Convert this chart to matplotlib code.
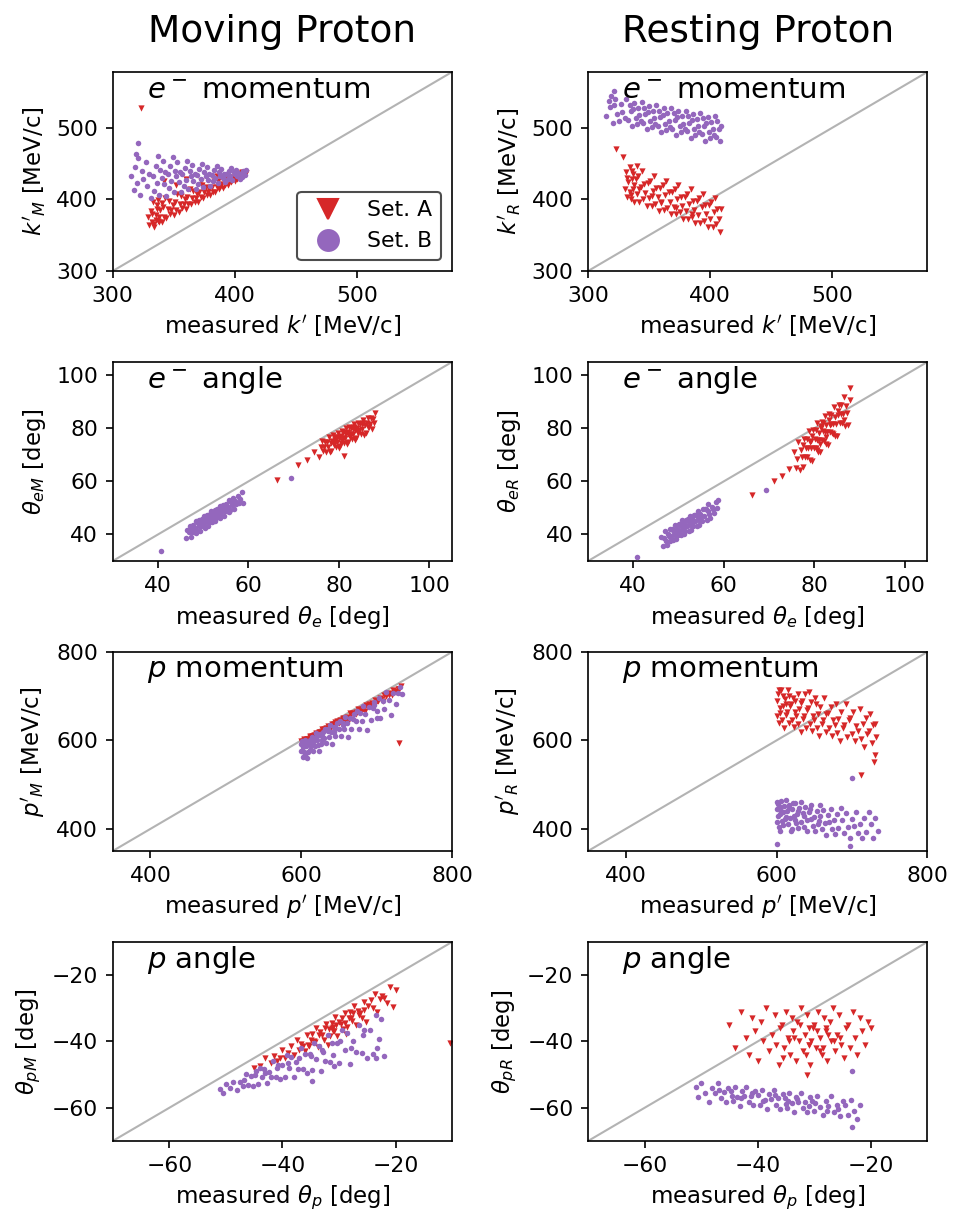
import numpy as np
import matplotlib
matplotlib.use("Agg")
import matplotlib.pyplot as plt
from matplotlib.lines import Line2D

nan = np.nan

# ---- electron momentum k' [MeV/c]: measured, moving-proton and resting-proton reconstruction
kA_meas = [330, 331, 332, 333, 334, 335, 336, 337, 338, 339, 340, 341, 342, 343, 344, 345, 346, 347, 348, 349,
           350, 351, 352, 353, 354, 355, 356, 357, 358, 359, 360, 361, 362, 363, 364, 365, 366, 367, 368, 369,
           370, 371, 372, 373, 374, 375, 376, 377, 378, 379, 380, 381, 382, 383, 384, 385, 386, 387, 388, 389,
           390, 391, 392, 393, 394, 395, 396, 397, 398, 399, 400, 401, 402, 403, 404, 405, 406, 407, 408, 409,
           332, 334, 336, 338, 340, 335, 337, 323, 329, 342, 352, 360, 372, 385]
kA_mov = [364, 384, 369, 396, 365, 378, 392, 370, 376, 385, 369, 390, 376, 402, 374, 386, 398, 379, 385, 392,
          378, 397, 385, 408, 383, 394, 405, 388, 393, 400, 387, 404, 394, 414, 393, 402, 412, 397, 402, 407,
          397, 411, 403, 420, 402, 410, 418, 406, 410, 415, 406, 418, 411, 426, 411, 418, 425, 415, 418, 422,
          416, 426, 420, 432, 420, 426, 431, 424, 427, 430, 426, 433, 429, 437, 430, 434, 438, 433, 435, 437,
          380, 362, 386, 368, 395, 371, 399, 527, 375, 425, 420, 428, 425, 433]
kA_rest = [414, 438, 403, 424, 445, 406, 428, 415, 397, 429, 408, 433, 397, 418, 439, 400, 422, 409, 391, 423,
           402, 426, 391, 412, 432, 394, 416, 403, 384, 416, 396, 420, 385, 406, 426, 388, 410, 397, 379, 410,
           390, 414, 379, 400, 420, 382, 404, 391, 373, 404, 384, 408, 373, 394, 414, 376, 398, 385, 367, 398,
           378, 402, 367, 389, 408, 370, 392, 379, 361, 392, 372, 396, 361, 383, 402, 365, 386, 373, 355, 387,
           430, 410, 440, 420, 446, 400, 435, 470, 459, 415, 405, 395, 388, 380]

kB_meas = [315, 317, 318, 320, 321, 322, 324, 325, 327, 328, 330, 331, 333, 334, 335, 336, 337, 338, 339, 340,
           341, 342, 343, 344, 345, 346, 347, 348, 349, 350, 351, 352, 353, 354, 355, 356, 357, 358, 359, 360,
           361, 362, 363, 364, 365, 366, 367, 368, 369, 370, 371, 372, 373, 374, 375, 376, 377, 378, 379, 380,
           381, 382, 383, 384, 385, 386, 387, 388, 389, 390, 391, 392, 393, 394, 395, 396, 397, 398, 399, 400,
           401, 402, 403, 404, 405, 406, 407, 408, 409, 321, 319]
kB_mov = [432, 413, 445, 423, 458, 406, 439, 429, 452, 419, 436, 402, 433, 412, 446, 423, 460, 406, 441, 430,
          454, 421, 438, 405, 435, 416, 447, 425, 459, 411, 440, 432, 452, 424, 438, 410, 435, 419, 444, 427,
          454, 415, 439, 432, 448, 425, 436, 414, 434, 421, 443, 428, 450, 418, 438, 432, 445, 427, 436, 419,
          434, 425, 441, 430, 447, 423, 438, 433, 443, 430, 436, 424, 435, 428, 440, 432, 444, 427, 438, 435,
          441, 432, 437, 428, 436, 431, 439, 434, 441, 479, 463]
kB_rest = [517, 538, 529, 507, 532, 540, 519, 510, 533, 522, 514, 540, 511, 532, 523, 502, 526, 535, 514, 505,
           528, 518, 509, 536, 507, 528, 519, 498, 522, 531, 510, 501, 524, 514, 505, 532, 503, 524, 515, 494,
           518, 527, 506, 497, 520, 510, 501, 528, 499, 520, 511, 490, 515, 523, 502, 494, 516, 506, 498, 524,
           495, 517, 507, 486, 511, 519, 498, 490, 512, 502, 494, 520, 491, 513, 503, 482, 507, 515, 494, 486,
           508, 498, 490, 516, 487, 509, 499, 481, 503, 552, 545]

# ---- electron angle theta_e [deg]
thA_meas = [75.5, 76, 76.2, 76.5, 76.8, 77, 77.2, 77.4, 77.6, 77.8, 78, 78.2, 78.3, 78.5, 78.7, 78.9, 79, 79.2,
            79.3, 79.5, 79.6, 79.8, 80, 80.1, 80.3, 80.4, 80.6, 80.7, 80.9, 81, 81.1, 81.3, 81.4, 81.6, 81.7,
            81.9, 82, 82.1, 82.3, 82.4, 82.6, 82.7, 82.9, 83, 83.2, 83.3, 83.5, 83.6, 83.8, 84, 84.1, 84.3, 84.5,
            84.6, 84.8, 85, 85.2, 85.4, 85.6, 85.8, 86, 86.2, 86.4, 86.6, 86.8, 87, 87.2, 87.5, 87.8, 88,
            79.1, 80.5, 81.5, 82.5, 83.4, 84.2, 85.3, 86.5, 66.2, 71.0, 72.9, 74.5, 81.2]
thA_mov = [69.2, 73.1, 75.1, 71.6, 72.8, 75, 71.2, 74.8, 73, 76.7, 70.9, 74.5, 71.6, 75.3, 77.3, 73.7, 74.7, 76.9,
           73, 76.7, 74.8, 78.4, 72.6, 76.2, 73.4, 77, 78.9, 75.2, 76.4, 78.5, 74.6, 78.2, 76.3, 80, 74.1,
           77.8, 74.9, 78.5, 80.4, 76.7, 77.9, 80, 76.1, 79.7, 77.9, 81.5, 75.7, 79.2, 76.4, 80.1, 82, 78.4, 79.5,
           81.6, 77.8, 81.5, 79.6, 83.3, 77.5, 81.2, 78.3, 82, 84, 80.4, 81.5, 83.7, 79.9, 83.6, 81.9, 85.6,
           75.6, 74.5, 78.1, 77.1, 80.6, 78.1, 82, 80.5, 60.4, 66.3, 68.2, 71, 69.6]
thA_rest = [71.2, 65, 68.3, 74.8, 64.3, 71.7, 69, 65.5, 73.7, 76, 69.3, 72.7, 75.8, 69.2, 72.5, 78.8, 68, 75.3,
            72.5, 67.8, 77, 79.3, 72.7, 75.9, 79.2, 72.4, 75.7, 81.9, 71.2, 78.4, 75.5, 70.9, 80, 82.4, 75.5,
            78.9, 82, 75.2, 78.5, 84.7, 74, 81.2, 78.5, 73.7, 83, 85.2, 78.5, 81.7, 85, 78.4, 81.5, 87.9, 77.2,
            84.4, 81.7, 77, 86.4, 88.7, 82, 85.4, 88.7, 82, 85.4, 91.7, 81, 88.4, 85.7, 81.2, 90.7, 95,
            74.7, 72, 80.7, 76.9, 81.4, 77.7, 85, 83, 54.9, 60.1, 61.9, 64.8, 74]

thB_meas = [46.2, 46.5, 46.8, 47, 47.2, 47.4, 47.6, 47.8, 48, 48.2, 48.3, 48.5, 48.7, 48.8, 49, 49.1, 49.3, 49.4,
            49.6, 49.7, 49.9, 50, 50.1, 50.3, 50.4, 50.5, 50.7, 50.8, 51, 51.1, 51.2, 51.4, 51.5, 51.7, 51.8,
            52, 52.1, 52.2, 52.4, 52.5, 52.7, 52.8, 53, 53.1, 53.3, 53.4, 53.6, 53.7, 53.9, 54, 54.2, 54.3, 54.5,
            54.6, 54.8, 55, 55.2, 55.4, 55.6, 55.8, 56, 56.2, 56.4, 56.6, 56.8, 57, 57.3, 57.6, 57.9, 58.2, 58.5,
            58.8, 40.7, 69.3]
thB_mov = [38.6, 41.7, 40.8, 43.2, 38.9, 42, 40.9, 43.7, 40.9, 42.6, 44.9, 40.6, 41.4, 44.2, 43.2, 45.5, 41.2, 44.2,
           43, 45.7, 43, 44.6, 46.9, 42.6, 43.2, 46, 45, 47.3, 43.1, 46.1, 44.8, 47.6, 44.7, 46.4, 48.7,
           44.5, 45.1, 47.9, 46.9, 49.2, 44.9, 47.9, 46.7, 49.4, 46.7, 48.3, 50.7, 46.3, 47, 49.8, 48.8, 51.2, 46.9,
           49.9, 48.7, 51.5, 48.7, 50.5, 52.9, 48.6, 49.3, 52.2, 51.2, 53.7, 49.4, 52.5, 51.4, 54.4, 51.7, 53.5, 56,
           51.9, 33.6, 61.4]
thB_rest = [39.2, 35.5, 38.8, 41.3, 37.7, 36.1, 40.1, 39.3, 37.7, 41.9, 39.4, 42.1, 41.8, 37.9, 41.1, 43.5, 39.9, 38.2,
            42.2, 41.3, 39.7, 43.8, 41.2, 43.9, 43.5, 39.6, 42.8, 45.3, 41.7, 40, 43.9, 43.1, 41.4, 45.6, 43,
            45.7, 45.3, 41.4, 44.6, 47, 43.4, 41.7, 45.7, 44.8, 43.3, 47.4, 44.9, 47.5, 47.2, 43.3, 46.5, 48.9, 45.3,
            43.6, 47.6, 46.8, 45.2, 49.4, 46.9, 49.7, 49.4, 45.6, 48.8, 51.3, 47.7, 46.1, 50.2, 49.5, 48, 52.3, 50,
            52.8, 31.4, 56.6]

# ---- proton momentum p' [MeV/c]
pA_meas = [600, 601, 602, 603, 604, 605, 606, 607, 609, 610, 611, 612, 614, 615, 616, 618, 619, 620, 622, 623,
           625, 626, 628, 629, 630, 632, 633, 635, 636, 638, 639, 641, 642, 644, 645, 647, 648, 650, 651, 653,
           655, 656, 658, 660, 661, 663, 665, 666, 668, 670, 672, 673, 675, 677, 679, 680, 682, 684, 686, 688,
           690, 692, 694, 696, 698, 700, 702, 704, 706, 708, 710, 712, 714, 716, 718, 720, 722, 724, 726, 728,
           730, 732, 603, 608, 613, 617, 624, 634, 643, 652, 730, 729, 712]
pA_mov = [598, 594, 598, 593, 603, 600, 598, 604, 602, 597, 610, 607, 611, 607, 611, 607, 617, 614, 613, 619,
          618, 612, 626, 623, 626, 623, 627, 623, 633, 631, 629, 636, 633, 629, 642, 640, 643, 640, 644, 640,
          651, 648, 647, 653, 651, 647, 661, 658, 662, 659, 664, 659, 670, 667, 666, 672, 671, 667, 681, 678,
          683, 680, 684, 680, 691, 689, 688, 695, 694, 690, 703, 701, 705, 702, 707, 703, 714, 712, 710, 717,
          716, 722, 600, 603, 606, 612, 616, 625, 637, 646, 594, 717, 705]
pA_rest = [690, 655, 704, 639, 673, 663, 713, 645, 678, 628, 694, 657, 664, 714, 639, 678, 682, 647, 696, 631,
           665, 655, 704, 636, 670, 619, 685, 648, 656, 705, 629, 669, 673, 637, 687, 621, 656, 645, 695, 627,
           660, 610, 675, 638, 646, 695, 619, 659, 663, 627, 676, 611, 645, 634, 683, 616, 649, 598, 664, 627,
           634, 683, 607, 647, 651, 615, 664, 598, 633, 622, 671, 603, 636, 586, 651, 614, 621, 660, 595, 634,
           638, 607, 715, 700, 683, 700, 688, 690, 710, 682, 566, 552, 522]

pB_meas = [600, 600, 601, 602, 603, 604, 605, 606, 607, 608, 609, 610, 611, 613, 614, 615, 617, 618, 620, 621,
           623, 624, 626, 627, 629, 630, 632, 633, 635, 637, 638, 640, 641, 643, 645, 646, 648, 650, 651, 653,
           655, 657, 658, 660, 662, 664, 666, 668, 670, 672, 674, 676, 678, 680, 682, 685, 687, 690, 692, 695,
           697, 700, 703, 705, 708, 710, 713, 716, 719, 722, 725, 728, 731, 734,
           602.5, 604.5, 606.5, 612, 616, 619, 622, 625, 628, 636, 644, 656, 700, 601, 697]
pB_mov = [591, 576, 594, 562, 589, 574, 601, 587, 560, 596, 574, 593, 602, 588, 607, 575, 603, 588, 616, 601,
          575, 612, 591, 610, 620, 605, 625, 593, 621, 607, 634, 620, 592, 631, 609, 629, 639, 625, 644, 611,
          640, 625, 654, 639, 608, 651, 626, 649, 660, 643, 667, 626, 661, 643, 678, 660, 624, 675, 645, 673,
          686, 666, 695, 650, 690, 670, 709, 692, 658, 708, 683, 708, 721, 706,
          585, 566, 596, 579, 597, 607, 590, 615, 600, 626, 618, 634, 650, 598, 680]
pB_rest = [445, 415, 460, 430, 404, 449, 434, 463, 418, 438, 408, 452, 422, 466, 441, 411, 455, 425, 400, 444,
           429, 459, 413, 433, 402, 447, 416, 461, 436, 405, 450, 419, 394, 438, 423, 453, 407, 427, 396, 441,
           410, 455, 429, 399, 443, 413, 387, 432, 416, 446, 400, 420, 389, 433, 403, 447, 421, 391, 435, 404,
           379, 423, 407, 437, 391, 410, 380, 424, 393, 437, 411, 380, 425, 394,
           456, 395, 441, 427, 448, 396, 458, 419, 440, 430, 445, 417, 516, 366, 362]

# ---- proton angle theta_p [deg]
tpA_meas = [-45, -44, -43, -42, -41.5, -41, -40.5, -40, -39.5, -39, -38.5, -38, -37.5, -37, -36.7, -36.3, -36,
            -35.7, -35.3, -35, -34.7, -34.3, -34, -33.7, -33.3, -33, -32.7, -32.3, -32, -31.7, -31.3, -31, -30.7,
            -30.3, -30, -29.7, -29.3, -29, -28.7, -28.3, -28, -27.7, -27.3, -27, -26.7, -26.3, -26, -25.6, -25.2,
            -24.8, -24.4, -24, -23.6, -23.2, -22.8, -22.4, -22, -21.5, -21, -20.5, -20,
            -33.5, -32.5, -31.5, -30.5, -29.5, -28.5, -27.5, -26.5, -31, -29, -34.5, -35.5, -25.5, -27.9, -30.9,
            -10.4, -31.2]
tpA_mov = [-48, -47.5, -45, -46.5, -44.5, -46, -45, -42.5, -45, -43.5, -41.5, -44, -39.5, -42.5, -40.7, -41.3, -43,
           -38.2, -41.5, -39.5, -37.7, -40.3, -36, -41.7, -37.3, -38, -39.7, -34.8, -41, -36.2, -34.3, -37, -32.7,
           -38.3, -34, -34.7, -36.3, -31.5, -37.7, -32.8, -31, -33.7, -29.3, -35, -30.7, -31.3, -33, -28.1, -34.2,
           -29.3, -27.4, -30, -25.6, -31.2, -27.3, -26.4, -27, -28.5, -23.5, -29.5, -24.5,
           -38, -36, -38.5, -35, -33, -35.5, -31.5, -32, -35.5, -34.5, -40, -41, -30.5, -33, -36.8,
           -40.5, -36]
tpA_rest = [-35, -42, -31, -39, -44, -33, -37, -46, -34, -40, -30, -43, -38, -32, -41, -47, -36,
            -35, -42, -31, -39, -44, -33, -37, -46, -34, -40, -30, -43, -38, -32, -41, -47,
            -36, -35, -42, -31, -39, -44, -33, -37, -46, -34, -40, -30, -43, -38, -32, -41,
            -45, -36, -35, -42, -31, -39, -44, -33, -37, -41, -34, -36,
            -39, -35, -44, -40, -37, -42, -38, -40, -36, -43, -40, -45, -39, -36, -41,
            nan, -50.2]

tpB_meas = [-51, -50.5, -50, -49.3, -48.7, -48, -47.5, -47, -46.5, -46, -45.6, -45.2, -44.8, -44.4, -44, -43.6,
            -43.2, -42.8, -42.4, -42, -41.6, -41.2, -40.8, -40.4, -40, -39.6, -39.2, -38.8, -38.4, -38, -37.6,
            -37.2, -36.8, -36.4, -36, -35.6, -35.2, -34.8, -34.4, -34, -33.6, -33.2, -32.8, -32.4, -32, -31.6,
            -31.2, -30.8, -30.4, -30, -29.5, -29, -28.5, -28, -27.5, -27, -26.5, -26, -25.5, -25, -24.5, -24,
            -23.5, -23, -22.5, -22, -43, -41, -39, -37, -35, -33, -31, -29.8, -27.8, -25.8, -46.8, -44.6,
            -23.4, -23.3, -34.7]
tpB_mov = [-54.2, -55.4, -52.7, -53.9, -52.1, -54.7, -52.3, -53.3, -49.7, -53, -50.4, -53.4, -50.1, -52.7, -48, -50.8,
           -48.2, -52.6, -49.1, -50.8, -45.8, -50.7, -47.2, -51.3, -47, -50.7, -44.2, -48, -44.7, -50.7, -46.2,
           -48.4, -42, -48.3, -43.9, -49.4, -43.8, -48.5, -40.5, -45.3, -41.3, -48.8, -43.2, -45.9, -38.1, -46.1,
           -40.6, -47.3, -40.6, -46.4, -36.7, -42.5, -37.6, -46.7, -39.9, -43.3, -35, -43.4, -36.7, -44.9, -36.7, -43.8,
           -32, -39.2, -33.3, -44.3, -49.5, -48, -46.5, -45, -44.5, -42.5, -44, -40, -42, -38, -51.5, -49,
           -45, -42, -52]
tpB_rest = [-53.8, -56.9, -52.5, -55.6, -58.3, -53.9, -55.5, -52.6, -57.2, -55.3, -58.4, -54, -55, -58.1, -53.7, -56.8,
            -59.4, -54.9, -56.5, -53.6, -58.2, -56.3, -59.3, -54.9, -56, -59.1, -54.7, -57.7, -60.3, -55.9, -57.5,
            -54.6, -59.1, -57.2, -60.3, -55.9, -57, -60, -55.6, -58.7, -61.3, -56.9, -58.4, -55.5, -60.1, -58.2,
            -61.3, -56.8, -57.9, -61, -56.6, -59.7, -62.3, -57.9, -59.5, -56.6, -61.2, -59.3, -62.4, -58, -59.1, -62.2,
            -57.8, -60.9, -63.5, -59.1, -57, -55.5, -58, -56, -59, -57.5, -59.5, -58.5, -61, -60.5, -54.5, -56.5,
            -48.8, -65.7, -58]

# per-row settings
panel_names = [r"$e^-$ momentum", r"$e^-$ angle", r"$p$ momentum", r"$p$ angle"]
xlabels = [r"measured $k'$ [MeV/c]", r"measured $\theta_e$ [deg]",
           r"measured $p'$ [MeV/c]", r"measured $\theta_p$ [deg]"]
ylabels_M = [r"$k'_M$ [MeV/c]", r"$\theta_{eM}$ [deg]", r"$p'_M$ [MeV/c]", r"$\theta_{pM}$ [deg]"]
ylabels_R = [r"$k'_R$ [MeV/c]", r"$\theta_{eR}$ [deg]", r"$p'_R$ [MeV/c]", r"$\theta_{pR}$ [deg]"]
limits = [(300, 578), (30, 105), (350, 800), (-70, -10)]
ticks = [[300, 400, 500], [40, 60, 80, 100], [400, 600, 800], [-60, -40, -20]]

setA = [(kA_meas, kA_mov, kA_rest), (thA_meas, thA_mov, thA_rest),
        (pA_meas, pA_mov, pA_rest), (tpA_meas, tpA_mov, tpA_rest)]
setB = [(kB_meas, kB_mov, kB_rest), (thB_meas, thB_mov, thB_rest),
        (pB_meas, pB_mov, pB_rest), (tpB_meas, tpB_mov, tpB_rest)]

red = "#d62728"
purple = "#9467bd"

fig, axes = plt.subplots(4, 2, figsize=(964 / 150, 1230 / 150), dpi=150)
fig.subplots_adjust(left=0.117, right=0.962, bottom=0.0724, top=0.9415,
                    wspace=0.401, hspace=0.457)

for r in range(4):
    lo, hi = limits[r]
    for c in range(2):
        ax = axes[r, c]
        ax.plot([lo, hi], [lo, hi], color="0.7", lw=1, zorder=1)
        ax.scatter(setA[r][0], setA[r][1 + c], marker="v", s=9, color=red,
                   linewidths=0, zorder=2)
        ax.scatter(setB[r][0], setB[r][1 + c], marker="o", s=7, color=purple,
                   linewidths=0, zorder=3)
        ax.set_xlim(lo, hi)
        ax.set_ylim(lo, hi)
        ax.set_xticks(ticks[r])
        ax.set_yticks(ticks[r])
        ax.tick_params(labelsize=10.5)
        ax.set_xlabel(xlabels[r], fontsize=11)
        ax.set_ylabel(ylabels_M[r] if c == 0 else ylabels_R[r], fontsize=11)
        ax.text(0.1, 0.91, panel_names[r], transform=ax.transAxes,
                fontsize=14, va="center", ha="left")

handles = [Line2D([], [], marker="v", ls="", color=red, markersize=10),
           Line2D([], [], marker="o", ls="", color=purple, markersize=10)]
leg = axes[0, 0].legend(handles, ["Set. A", "Set. B"], loc="lower right",
                        fontsize=10.5, framealpha=1)
leg.get_frame().set_edgecolor("0.3")

fig.text(0.293, 1 - 32 / 1230, "Moving Proton", fontsize=18, ha="center", va="center")
fig.text(0.786, 1 - 32 / 1230, "Resting Proton", fontsize=18, ha="center", va="center")

fig.savefig("out.png", dpi=150)
